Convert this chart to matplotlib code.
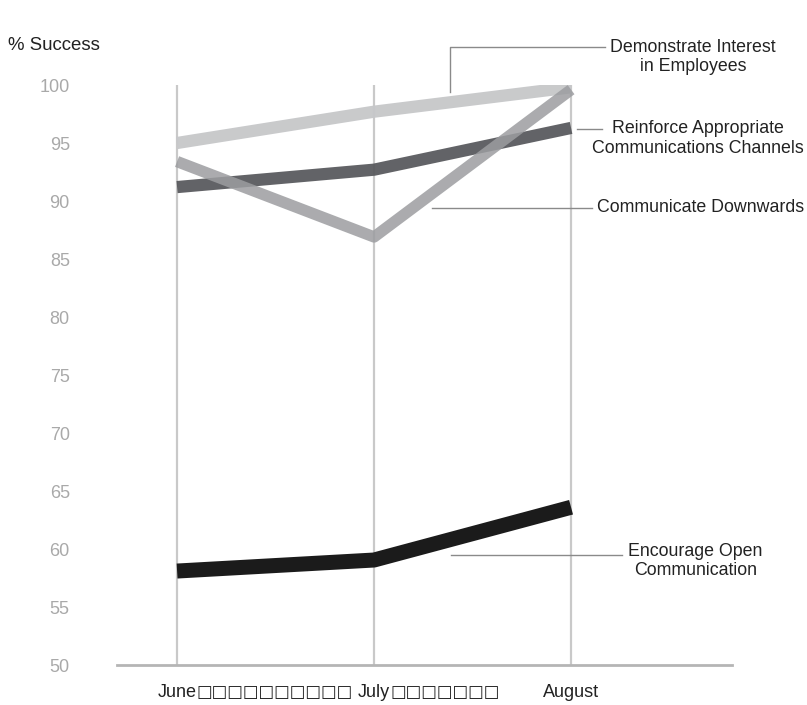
import matplotlib
matplotlib.use("Agg")
import matplotlib.pyplot as plt
from matplotlib.lines import Line2D

plt.rcParams['font.family'] = ['Liberation Sans', 'DejaVu Sans']

# Data
months = ["June", "July", "August"]
month_fillers = ["\u25a1" * 10, "\u25a1" * 7, ""]
demonstrate_interest = [95.0, 97.7, 99.8]
reinforce_channels = [91.2, 92.7, 96.3]
communicate_downwards = [93.4, 86.9, 99.6]
encourage_open = [58.1, 59.05, 63.6]
y_ticks = [50, 55, 60, 65, 70, 75, 80, 85, 90, 95, 100]

fig = plt.figure(figsize=(8.07, 7.05), dpi=100)
W, H = 807, 705
# axes: left edge at px 117, right at 732, bottom at 665, top at 85
ax = fig.add_axes([117 / W, (H - 665) / H, (732 - 117) / W, (665 - 85) / H])

x = list(range(len(months)))
ax.set_xlim(-0.305, 2.817)
ax.set_ylim(50, 100)

# vertical month guides
for xi in x:
    ax.axvline(xi, color="#c9c9c9", lw=1.6, zorder=1)

series = [
    (encourage_open, "#1b1b1b", 10.8, 1.0),
    (demonstrate_interest, "#c6c7c9", 8.8, 0.95),
    (reinforce_channels, "#55565a", 8.8, 0.92),
    (communicate_downwards, "#9c9da0", 8.2, 0.85),
]
for vals, col, lw, a in series:
    ax.plot(x, vals, color=col, lw=lw, alpha=a, solid_capstyle="butt",
            solid_joinstyle="round", zorder=3)

for s in ["top", "right", "left"]:
    ax.spines[s].set_visible(False)
ax.spines["bottom"].set_color("#b5b5b5")
ax.spines["bottom"].set_linewidth(2.0)

ax.set_yticks(y_ticks)
ax.set_yticklabels([str(t) for t in y_ticks], color="#a9a9a9", fontsize=13)
ax.tick_params(axis="y", length=0, pad=34)
ax.set_xticks(x)
xlabels = ax.set_xticklabels(months, fontsize=13, color="#222222")
ax.tick_params(axis="x", length=0, pad=14)

for lab, fill in zip(xlabels, month_fillers):
    if fill:
        ax.annotate(fill, xy=(1, 0), xycoords=lab, xytext=(0, 0.5),
                    textcoords="offset points", ha="left", va="bottom",
                    fontsize=11.9, color="#222222",
                    family=["DejaVu Sans"], annotation_clip=False)

fig.text(8 / W, 1 - 45 / H, "% Success", fontsize=13.4, color="#222222",
         ha="left", va="center")

# label leaders
lead = dict(color="#8a8a8a", lw=1.0, clip_on=False, zorder=2)
ax.add_line(Line2D([1.386, 1.386, 2.173], [99.4, 103.3, 103.3], **lead))
ax.add_line(Line2D([2.03, 2.157], [96.2, 96.2], **lead))
ax.add_line(Line2D([1.294, 2.107], [89.4, 89.4], **lead))
ax.add_line(Line2D([1.391, 2.259], [59.5, 59.5], **lead))

txt = dict(fontsize=12.8, color="#222222", clip_on=False)
ax.text(2.62, 102.4, "Demonstrate Interest\nin Employees", ha="center", va="center", **txt)
ax.text(2.645, 95.4, "Reinforce Appropriate\nCommunications Channels", ha="center", va="center", **txt)
ax.text(2.132, 89.4, "Communicate Downwards", ha="left", va="center", **txt)
ax.text(2.63, 58.97, "Encourage Open\nCommunication", ha="center", va="center", **txt)

fig.savefig("out.png", dpi=100)
